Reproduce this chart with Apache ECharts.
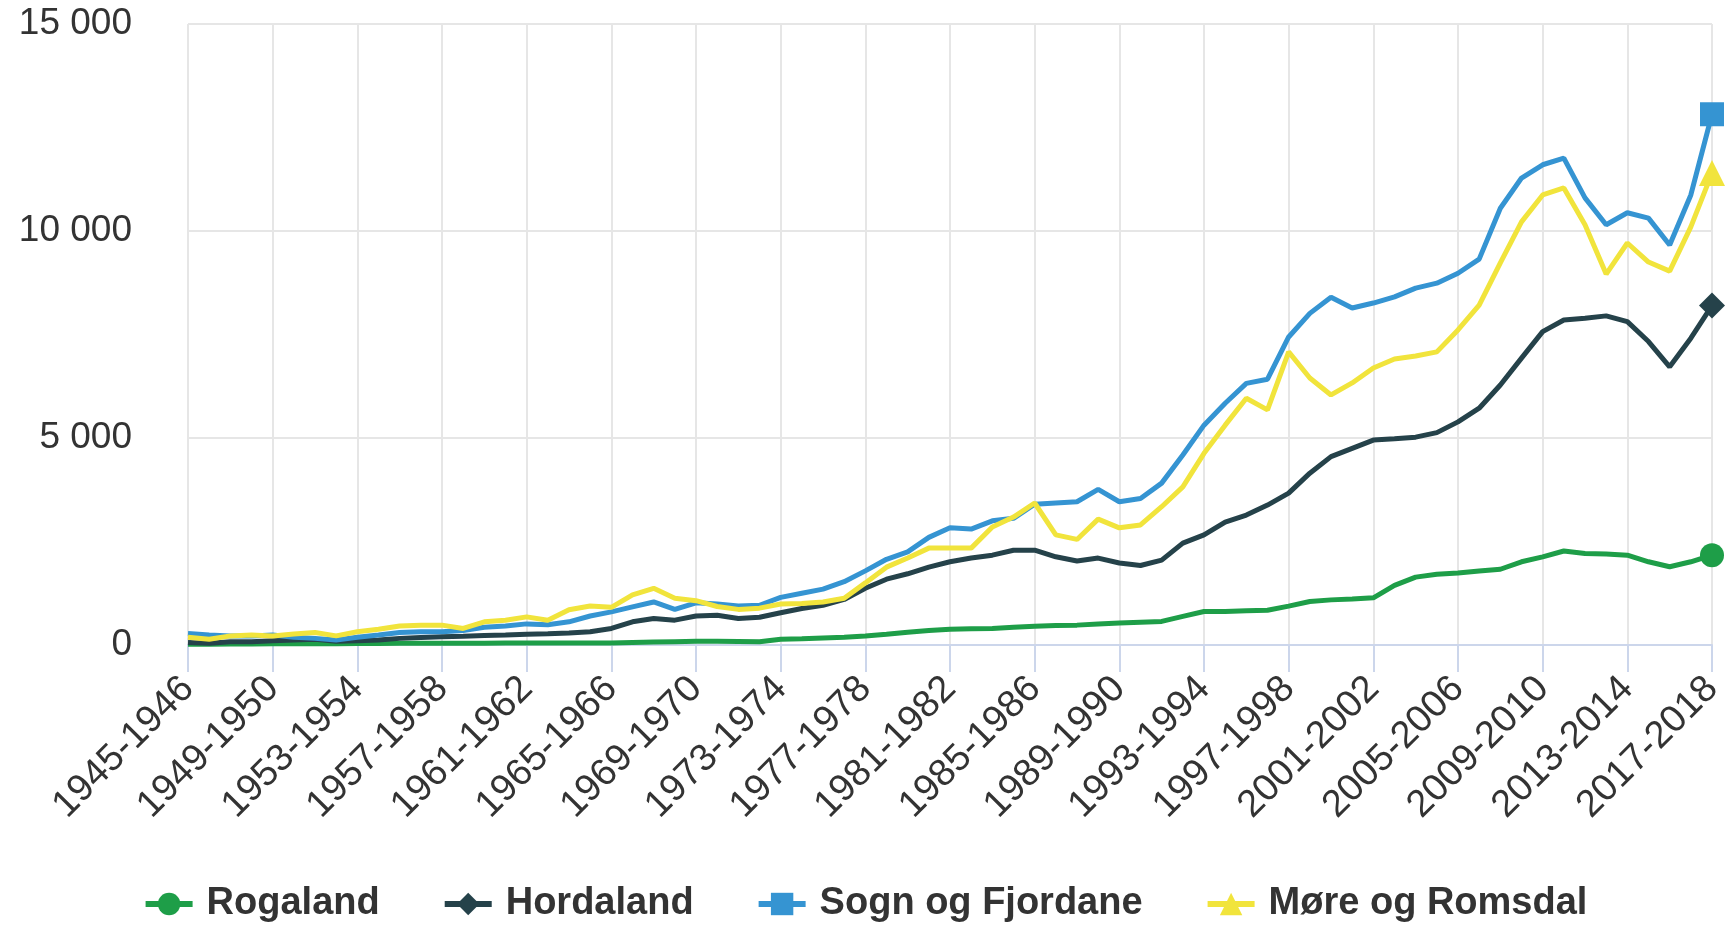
<!DOCTYPE html>
<html>
<head>
<meta charset="utf-8">
<script src="https://cdn.jsdelivr.net/npm/echarts@6/dist/echarts.min.js"></script>
<style>
  html, body { margin: 0; padding: 0; background: #fff; }
  #chart { width: 1730px; height: 926px; }
</style>
</head>
<body>
<div id="chart"></div>
<script>
// school years 1945-1946 ... 2017-2018
var years = [];
for (var y = 1945; y <= 2017; y++) {
  years.push(y + "-" + (y + 1));
}

var rogaland = [
  20, 20, 25, 25, 30, 30, 30, 30, 35, 35,
  40, 40, 40, 45, 45, 50, 50, 50, 50, 50,
  50, 60, 70, 80, 90, 90, 85, 80, 140, 150,
  170, 190, 220, 260, 310, 350, 380, 390, 400, 430,
  450, 470, 480, 510, 530, 550, 570, 690, 810, 810,
  830, 840, 940, 1050, 1090, 1110, 1140, 1440, 1640, 1710,
  1740, 1790, 1830, 2010, 2130, 2270, 2210, 2200, 2170, 2010,
  1890, 2010, 2170
];

var hordaland = [
  60, 40, 80, 80, 100, 120, 140, 90, 100, 120,
  160, 180, 200, 210, 230, 240, 260, 270, 290, 320,
  400, 560, 640, 600, 700, 720, 640, 670, 780, 880,
  960, 1100, 1370, 1590, 1720, 1880, 2010, 2100, 2170, 2290,
  2290, 2130, 2030, 2100, 1980, 1920, 2050, 2460, 2660, 2970,
  3140, 3380, 3670, 4150, 4550, 4750, 4950, 4980, 5020, 5130,
  5390, 5720, 6280, 6930, 7570, 7850, 7890, 7950, 7810, 7330,
  6720, 7410, 8200
];

var sogn = [
  280, 240, 220, 220, 240, 185, 160, 120, 185, 240,
  300, 320, 320, 350, 430, 460, 510, 490, 560, 700,
  800, 920, 1040, 860, 1020, 990, 940, 960, 1150, 1250,
  1350, 1530, 1790, 2070, 2250, 2600, 2830, 2800, 3000, 3060,
  3400, 3430, 3460, 3760, 3460, 3540, 3910, 4590, 5310, 5840,
  6320, 6420, 7440, 8010, 8400, 8140, 8260, 8410, 8620, 8740,
  8980, 9320, 10550, 11280, 11600, 11760, 10800, 10150, 10440, 10310,
  9660, 10870, 12820
];

var more = [
  185, 140, 220, 240, 220, 265, 300, 220, 320, 380,
  460, 480, 480, 400, 560, 600, 680, 600, 850, 940,
  910, 1210, 1370, 1130, 1070, 930, 860, 890, 990, 1000,
  1040, 1130, 1500, 1880, 2100, 2340, 2340, 2340, 2850, 3090,
  3430, 2660, 2550, 3040, 2830, 2900, 3340, 3820, 4630, 5310,
  5960, 5680, 7080, 6450, 6040, 6330, 6690, 6910, 6980, 7080,
  7610, 8210, 9230, 10220, 10870, 11040, 10150, 8960, 9710, 9250,
  9030, 10100, 11400
];

var font = "'Liberation Sans', Arial, sans-serif";
var lastIdx = years.length - 1;

function makeSeries(name, data, color, symbol, size) {
  return {
    name: name,
    type: "line",
    data: data,
    color: color,
    symbol: symbol,
    showSymbol: true,
    showAllSymbol: true,
    symbolSize: function (val, params) {
      return params.dataIndex === lastIdx ? size : 0;
    },
    lineStyle: { width: 5, color: color },
    itemStyle: { color: color },
    emphasis: { disabled: true },
    animation: false
  };
}

var chart = echarts.init(document.getElementById("chart"));
chart.setOption({
  backgroundColor: "#fff",
  animation: false,
  grid: { left: 188, right: 18, top: 24, bottom: 281 },
  xAxis: {
    type: "category",
    data: years,
    boundaryGap: false,
    axisLine: { lineStyle: { color: "#ccd6eb", width: 2 } },
    axisTick: { interval: 3, length: 27, lineStyle: { color: "#ccd6eb", width: 2 } },
    splitLine: { show: true, interval: 3, lineStyle: { color: "#e6e6e6", width: 2 } },
    axisLabel: {
      interval: 3,
      rotate: 45,
      margin: 38,
      color: "#333",
      fontSize: 38,
      fontFamily: font
    }
  },
  yAxis: {
    type: "value",
    min: 0,
    max: 15000,
    interval: 5000,
    axisLine: { show: false },
    axisTick: { show: false },
    splitLine: { lineStyle: { color: "#e6e6e6", width: 2 } },
    axisLabel: {
      margin: 56,
      color: "#333",
      fontSize: 37,
      fontFamily: font,
      formatter: function (v) {
        return String(v).replace(/\B(?=(\d{3})+(?!\d))/g, " ");
      }
    }
  },
  legend: {
    top: 880,
    left: "center",
    itemWidth: 47,
    itemHeight: 28,
    itemGap: 62,
    lineStyle: { width: 6 },
    textStyle: {
      color: "#333",
      fontSize: 38,
      fontWeight: "bold",
      fontFamily: font,
      padding: [0, 0, 0, 9]
    }
  },
  series: [
    makeSeries("Rogaland", rogaland, "#1e9e48", "circle", 24),
    makeSeries("Hordaland", hordaland, "#25424a", "diamond", 26),
    makeSeries("Sogn og Fjordane", sogn, "#3594d2", "rect", 24),
    makeSeries("Møre og Romsdal", more, "#f1e43c", "triangle", 26)
  ]
});
</script>
</body>
</html>
